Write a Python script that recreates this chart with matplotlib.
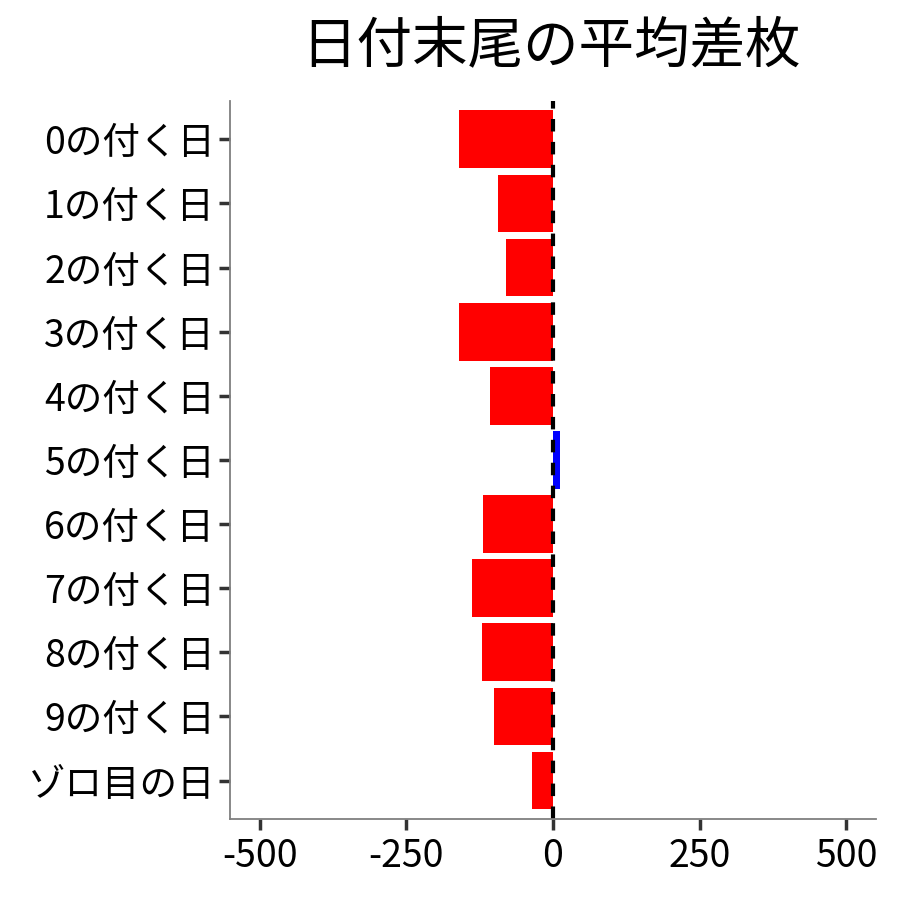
import numpy as np
import matplotlib.pyplot as plt

plt.rcParams['font.family'] = ['Noto Sans CJK JP', 'DejaVu Sans']

# data
labels = ['0の付く日', '1の付く日', '2の付く日', '3の付く日', '4の付く日',
          '5の付く日', '6の付く日', '7の付く日', '8の付く日', '9の付く日', 'ゾロ目の日']
values = [-160, -93, -80, -160, -107, 11, -119, -139, -121, -100, -36]
xticks = [-500, -250, 0, 250, 500]

colors = ['blue' if v > 0 else 'red' for v in values]
ypos = np.arange(len(labels))

fig = plt.figure(figsize=(9, 9), dpi=100)
ax = fig.add_axes([0.256, 0.09, 0.717, 0.798])

ax.barh(ypos, values, height=0.9, color=colors)
ax.axvline(0, color='black', linestyle=(0, (3, 2.5)), linewidth=3)

ax.set_xlim(-550, 550)
ax.set_ylim(len(labels) - 0.4, -0.6)
ax.set_yticks(ypos)
ax.set_yticklabels(labels)
ax.set_xticks(xticks)
ax.set_xticklabels([str(t) for t in xticks])
ax.tick_params(axis='both', labelsize=27, length=8, width=2.5, color='#333333', labelcolor='black')
ax.tick_params(axis='x', pad=5)
ax.tick_params(axis='y', pad=3)

for s in ['top', 'right']:
    ax.spines[s].set_visible(False)
for s in ['left', 'bottom']:
    ax.spines[s].set_color('#7f7f7f')
    ax.spines[s].set_linewidth(1.3)

fig.text(0.612, 0.948, '日付末尾の平均差枚', ha='center', va='center', fontsize=40)

fig.savefig('out.png', dpi=100)
